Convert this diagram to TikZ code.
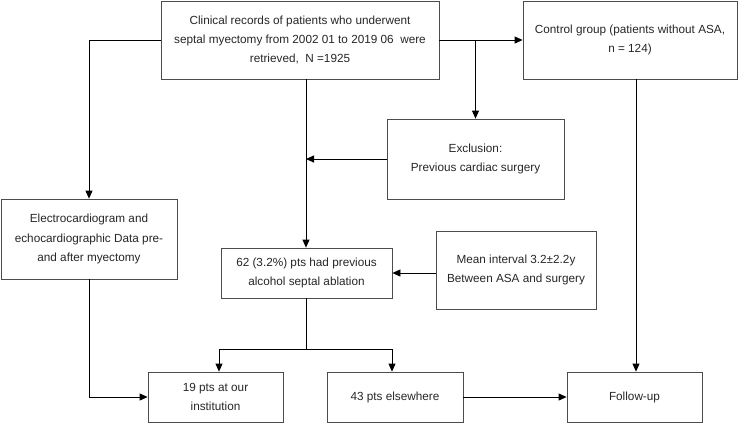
\documentclass[tikz,border=0pt]{standalone}
\usepackage{fontspec}
\setmainfont{Liberation Sans}
\usetikzlibrary{arrows.meta}
\begin{document}
\begin{tikzpicture}[x=1bp,y=-1bp,
  box/.style={draw=black!70,line width=0.8bp,rectangle,inner sep=0pt,align=center,
    font=\fontsize{11.8}{19.5}\selectfont,text=black!85},
  conn/.style={draw=black,line width=0.8bp},
  arr/.style={conn,-{Triangle[length=8bp,width=7bp]}}]
\useasboundingbox (0,0) rectangle (738,423);
\node[box,minimum width=278bp,minimum height=78bp] (top) at (300,40)
 {Clinical records of patients who underwent\\septal myectomy from 2002 01 to 2019 06\ \ were\\retrieved,\ \ N =1925};
\node[box,minimum width=214bp,minimum height=78bp] (ctrl) at (630,40)
 {Control group (patients without ASA,\\n = 124)};
\node[box,minimum width=177bp,minimum height=80bp] (excl) at (475.5,159)
 {Exclusion:\\Previous cardiac surgery};
\node[box,minimum width=176bp,minimum height=80bp] (ecg) at (89,239)
 {Electrocardiogram and\\echocardiographic Data pre-\\and after myectomy};
\node[box,minimum width=171bp,minimum height=50bp] (asa) at (306.5,273)
 {62 (3.2\%) pts had previous\\alcohol septal ablation};
\node[box,minimum width=160bp,minimum height=78bp] (mean) at (516,270)
 {Mean interval 3.2±2.2y\\Between ASA and surgery};
\node[box,minimum width=135bp,minimum height=50bp] (inst) at (215.5,397)
 {19 pts at our\\institution};
\node[box,minimum width=136bp,minimum height=50bp] (else) at (395,397)
 {43 pts elsewhere};
\node[box,minimum width=135bp,minimum height=50bp] (fu) at (634.5,397)
 {Follow-up};
\coordinate (split) at (306,349);
% top to left
\draw[arr] (top.west) -| (ecg.north);
% top to control
\draw[arr] (top.east) -- (ctrl.west);
% branch to exclusion
\draw[arr] (top.east -| excl.north) -- (excl.north);
% main vertical
\draw[arr] (top.south -| split) -- (asa.north -| split);
% exclusion arrow
\draw[arr] (excl.west) -- (excl.west -| split);
% mean arrow
\draw[arr] (mean.west |- asa.east) -- (asa.east);
% split
\draw[conn] (asa.south -| split) -- (split);
\draw[arr] (split) -| ([xshift=3.5bp]inst.north);
\draw[arr] (split) -| ([xshift=-3bp]else.north);
% ecg to inst
\draw[arr] (ecg.south) |- (inst.west);
% else to fu
\draw[arr] (else.east) -- (fu.west);
% ctrl to fu
\draw[arr] (ctrl.south -| 636,0) -- (fu.north -| 636,0);
\end{tikzpicture}
\end{document}
